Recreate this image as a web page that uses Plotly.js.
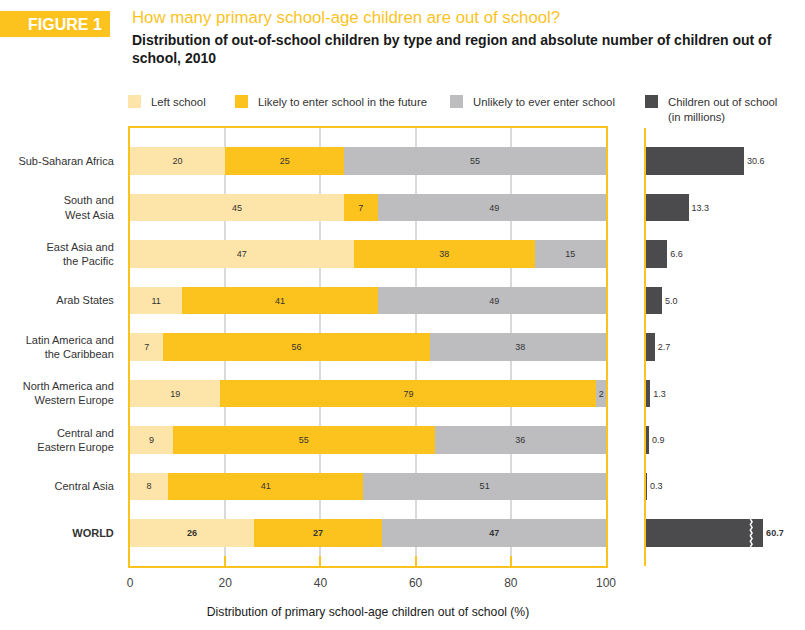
<!DOCTYPE html>
<html><head><meta charset="utf-8">
<script src="https://cdn.plot.ly/plotly-3.0.1.min.js"></script>
<style>body{margin:0;background:#fff}#chart{width:805px;height:630px}</style>
</head><body><div id="chart"></div><script>
// ---- data ----
const regions = ['Sub-Saharan Africa','South and<br>West Asia','East Asia and<br>the Pacific','Arab States','Latin America and<br>the Caribbean','North America and<br>Western Europe','Central and<br>Eastern Europe','Central Asia','<b>WORLD</b>'];
const leftSchool = [20,45,47,11,7,19,9,8,26];
const likelyEnter = [25,7,38,41,56,79,55,41,27];
const unlikelyEnter = [55,49,15,49,38,2,36,51,47];
const outOfSchool = [30.6,13.3,6.6,5.0,2.7,1.3,0.9,0.3,60.7];
const xTicks = [0,20,40,60,80,100];
const seriesNames = ['Left school','Likely to enter school in the future','Unlikely to ever enter school'];
const panelName = 'Children out of school<br>(in millions)';

// ---- styling ----
const W = 805, H = 630, T = 128, B = 64;
const C_LEFT = '#FDE4A8', C_LIKELY = '#FCC31F', C_UNLIKELY = '#BDBDC0', C_DARK = '#4B4B4D', C_AX = '#FCC31F';
const FONT = 'Liberation Sans, Arial, sans-serif';
const CAP = 36.6, BREAK = 32.6; // axis break for the WORLD bar in the right panel
const ypos = regions.map((_, i) => i);
const nWorld = regions.length - 1;
const px = v => v / W;
const py = v => (H - B - v) / (H - T - B);
const lbl = arr => arr.map((v, i) => i === nWorld ? '<b>' + v + '</b>' : String(v));

function segTrace(vals, color, name) {
  return {type:'bar', orientation:'h', x:vals, y:ypos, name:name, marker:{color:color, line:{width:0}},
    text:lbl(vals), textposition:'inside', insidetextanchor:'middle', constraintext:'none',
    textfont:{size:9, color:'#333', family:FONT}, hoverinfo:'skip', width:0.6, xaxis:'x', yaxis:'y'};
}
const traces = [
  segTrace(leftSchool, C_LEFT, seriesNames[0]),
  segTrace(likelyEnter, C_LIKELY, seriesNames[1]),
  segTrace(unlikelyEnter, C_UNLIKELY, seriesNames[2]),
  {type:'bar', orientation:'h', x:outOfSchool.map(v => Math.min(v, CAP)), y:ypos, name:'Children out of school',
   marker:{color:C_DARK, line:{width:0}}, text:lbl(outOfSchool.map(v => v.toFixed(1))), textposition:'outside',
   textfont:{size:9, color:'#333', family:FONT}, cliponaxis:false, hoverinfo:'skip', width:0.6, xaxis:'x2', yaxis:'y2'}
];

// zigzag break on the capped bar
let zz = 'M' + BREAK + ',' + (nWorld - 0.3);
const steps = 10;
for (let k = 1; k <= steps; k++) {
  zz += ' L' + (BREAK + (k % 2 ? 0.55 : 0)) + ',' + (nWorld - 0.3 + 0.6 * k / steps);
}
const shapes = [
  {type:'path', path:zz, xref:'x2', yref:'y2', line:{color:'#fff', width:1.5}},
  {type:'rect', xref:'paper', yref:'paper', x0:px(0), x1:px(110), y0:py(37), y1:py(11), fillcolor:C_AX, line:{width:0}}
];
const annotations = [
  {text:'<b>FIGURE 1</b>', x:px(104), y:py(24), xanchor:'right', yanchor:'middle', font:{size:16, color:'#fff', family:FONT}},
  {text:'How many primary school-age children are out of school?', x:px(130), y:py(17), xanchor:'left', yanchor:'middle', font:{size:16.8, color:C_AX, family:FONT}},
  {text:'<b>Distribution of out-of-school children by type and region and absolute number of children out of<br>school, 2010</b>', x:px(130), y:py(49), xanchor:'left', yanchor:'middle', align:'left', font:{size:14, color:'#1a1a1a', family:FONT}}
];
// legend
const legItems = [
  {x:128, c:C_LEFT, t:seriesNames[0]},
  {x:235, c:C_LIKELY, t:seriesNames[1]},
  {x:450, c:C_UNLIKELY, t:seriesNames[2]},
  {x:645, c:C_DARK, t:panelName}
];
legItems.forEach(it => {
  shapes.push({type:'rect', xref:'paper', yref:'paper', x0:px(it.x), x1:px(it.x + 13), y0:py(108), y1:py(95), fillcolor:it.c, line:{width:0}});
  annotations.push({text:it.t, x:px(it.x + 21), y:py(94), xanchor:'left', yanchor:'top', align:'left', font:{size:11.3, color:'#333', family:FONT}});
});
annotations.forEach(a => { a.xref = 'paper'; a.yref = 'paper'; a.showarrow = false; });

const layout = {
  width:W, height:H, margin:{l:0, r:0, t:T, b:B}, barmode:'stack', showlegend:false, bargap:0.4,
  paper_bgcolor:'#fff', plot_bgcolor:'#fff', font:{family:FONT, color:'#333'},
  uniformtext:{mode:'show', minsize:9},
  xaxis:{domain:[px(130), px(606)], range:[0,100], tickvals:xTicks, ticks:'inside', ticklen:10, tickwidth:2, tickcolor:C_AX,
    showline:true, linecolor:C_AX, linewidth:2, mirror:true, showgrid:true, gridcolor:'#DADADA', gridwidth:2, zeroline:false,
    tickfont:{size:12, color:'#444'}, ticklabelstandoff:5, fixedrange:true,
    title:{text:'Distribution of primary school-age children out of school (%)', font:{size:12.2, color:'#1a1a1a'}, standoff:18}},
  yaxis:{range:[nWorld + 0.71, -0.71], tickvals:ypos, ticktext:regions, ticks:'', showline:true, linecolor:C_AX, linewidth:2,
    mirror:true, showgrid:false, zeroline:false, tickfont:{size:11, color:'#333'}, ticklabelstandoff:12, anchor:'x'},
  xaxis2:{domain:[px(646), 1], range:[0, (W - 646) / 3.2], visible:false, anchor:'y2', fixedrange:true},
  yaxis2:{range:[nWorld + 0.71, -0.71], anchor:'x2', showline:true, linecolor:C_AX, linewidth:2, showticklabels:false,
    ticks:'', showgrid:false, zeroline:false},
  shapes:shapes, annotations:annotations
};
Plotly.newPlot('chart', traces, layout, {displayModeBar:false, staticPlot:true});
</script></body></html>
